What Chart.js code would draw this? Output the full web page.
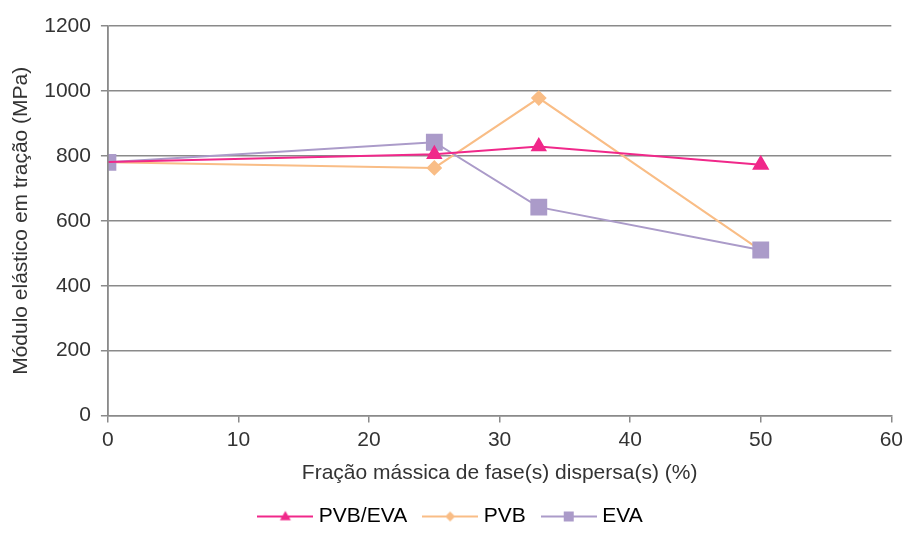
<!DOCTYPE html>
<html>
<head>
<meta charset="utf-8">
<script src="https://cdn.jsdelivr.net/npm/chart.js@4/dist/chart.umd.min.js"></script>
<style>
  html, body { margin: 0; padding: 0; background: #fff; }
  #wrap { width: 908px; height: 547px; }
</style>
</head>
<body>
<div id="wrap"><canvas id="c" width="908" height="547"></canvas></div>
<script>
// Fração mássica (%) e módulo elástico (MPa)
const fractions = [0, 25, 33, 50];
const pvbEva = [781, 805, 829, 773];
const pvb = [780, 763, 978, 509];
const eva = [780, 842, 642, 510];
const yTicks = [0, 200, 400, 600, 800, 1000, 1200];

const colors = { pvbEva: '#f0288a', pvb: '#f9bd86', eva: '#ab9bc9', axis: '#8a8a8a', text: '#333333' };
const FONT = { family: 'Liberation Sans, Arial, sans-serif', size: 21 };

function points(values) {
  return fractions.map((x, i) => ({ x: x, y: values[i] }));
}

// Legend swatch: a short line with the series marker in the middle
function legendSwatch(color, style, r) {
  const w = 56, h = 16;
  const cv = document.createElement('canvas');
  cv.width = w; cv.height = h;
  const g = cv.getContext('2d');
  g.strokeStyle = color; g.lineWidth = 2;
  g.beginPath(); g.moveTo(0, h / 2); g.lineTo(w, h / 2); g.stroke();
  g.fillStyle = color;
  const cx = w / 2, cy = h / 2;
  g.beginPath();
  if (style === 'triangle') {
    g.moveTo(cx, cy - r); g.lineTo(cx + r, cy + r * 0.7); g.lineTo(cx - r, cy + r * 0.7);
  } else if (style === 'rectRot') {
    g.moveTo(cx, cy - r); g.lineTo(cx + r, cy); g.lineTo(cx, cy + r); g.lineTo(cx - r, cy);
  } else {
    g.rect(cx - r, cy - r, 2 * r, 2 * r);
  }
  g.closePath(); g.fill();
  return cv;
}

const swatches = [
  legendSwatch(colors.pvbEva, 'triangle', 5.5),
  legendSwatch(colors.pvb, 'rectRot', 5),
  legendSwatch(colors.eva, 'rect', 5)
];

// Redraw the vertical axis line above the series markers
const axisOnTop = {
  id: 'axisOnTop',
  afterDatasetsDraw(chart) {
    const a = chart.chartArea, g = chart.ctx;
    g.save();
    g.strokeStyle = colors.axis; g.lineWidth = 1.5;
    g.beginPath(); g.moveTo(a.left, a.top); g.lineTo(a.left, a.bottom); g.stroke();
    g.restore();
  }
};

new Chart(document.getElementById('c'), {
  type: 'line',
  data: {
    datasets: [
      { label: 'PVB/EVA', data: points(pvbEva), borderColor: colors.pvbEva, backgroundColor: colors.pvbEva,
        pointStyle: 'triangle', pointRadius: [0, 7.5, 7.5, 8], borderWidth: 2, order: 1 },
      { label: 'PVB', data: points(pvb), borderColor: colors.pvb, backgroundColor: colors.pvb,
        pointStyle: 'rectRot', pointRadius: 6.5, borderWidth: 2, order: 3 },
      { label: 'EVA', data: points(eva), borderColor: colors.eva, backgroundColor: colors.eva,
        pointStyle: 'rect', pointRadius: 10.5, borderWidth: 2, order: 2 }
    ]
  },
  options: {
    responsive: false,
    animation: false,
    layout: { padding: { left: 8, right: 11, top: 26, bottom: 10 } },
    elements: { line: { tension: 0 }, point: { borderWidth: 0 } },
    scales: {
      x: {
        type: 'linear', min: 0, max: 60,
        ticks: { stepSize: 10, color: colors.text, font: FONT, padding: 5 },
        grid: { drawOnChartArea: false, drawTicks: true, tickLength: 7, color: colors.axis, lineWidth: 1.5 },
        border: { color: colors.axis, width: 1.5 },
        title: { display: true, text: 'Fração mássica de fase(s) dispersa(s) (%)', color: colors.text,
                 font: FONT, padding: { top: 3, bottom: 0 } }
      },
      y: {
        min: 0, max: 1200,
        afterBuildTicks: (s) => { s.ticks = yTicks.map(v => ({ value: v })); },
        ticks: { color: colors.text, font: FONT, padding: 10, callback: (v) => String(v) },
        grid: { color: colors.axis, lineWidth: 1.5, drawTicks: true, tickLength: 7 },
        border: { color: colors.axis, width: 1.5 },
        title: { display: true, text: 'Módulo elástico em tração (MPa)', color: colors.text,
                 font: FONT, padding: { top: 1, bottom: 0 } }
      }
    },
    plugins: {
      legend: {
        position: 'bottom',
        labels: {
          usePointStyle: true,
          pointStyleWidth: 46,
          boxHeight: 16,
          padding: 20,
          color: colors.text,
          font: FONT,
          generateLabels: (chart) => chart.data.datasets.map((ds, i) => ({
            text: ds.label, pointStyle: swatches[i], fillStyle: ds.borderColor,
            strokeStyle: ds.borderColor, lineWidth: 0, hidden: false, datasetIndex: i
          }))
        }
      },
      tooltip: { enabled: false }
    }
  },
  plugins: [axisOnTop]
});
</script>
</body>
</html>
